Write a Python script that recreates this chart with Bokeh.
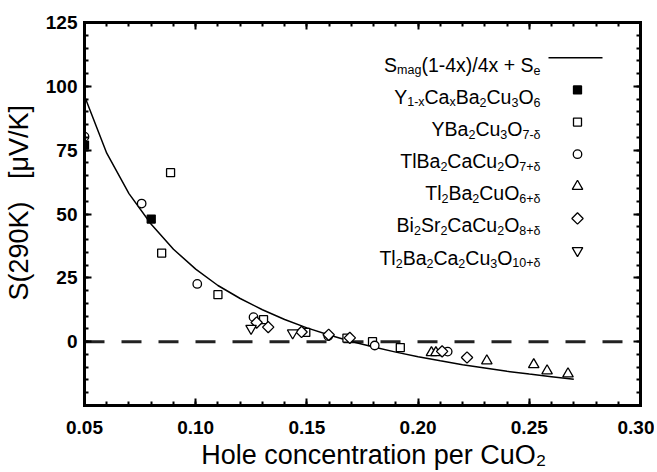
import numpy as np
from bokeh.plotting import figure
from bokeh.models import (Range1d, FixedTicker, LinearAxis, Label, Span, PrintfTickFormatter)
from bokeh.embed import file_html
from bokeh.resources import INLINE

# ---------------- data ----------------
yca_x = [0.050, 0.080]
yca_s = [77.0, 48.0]
ybco_x = [0.0887, 0.0847, 0.110, 0.1305, 0.1495, 0.168, 0.1795, 0.192]
ybco_s = [66.2, 34.7, 18.4, 8.6, 3.6, 1.4, 0.0, -2.3]
tl1212_x = [0.050, 0.0757, 0.1007, 0.1260, 0.1596, 0.1805, 0.2133]
tl1212_s = [80.3, 54.1, 22.6, 9.6, 2.2, -1.5, -3.9]
tl2201_x = [0.2060, 0.2080, 0.2309, 0.2520, 0.2580, 0.2674]
tl2201_s = [-4.3, -4.3, -7.5, -9.0, -11.4, -12.6]
bi2212_x = [0.1274, 0.1326, 0.1476, 0.1598, 0.1693, 0.2108, 0.2220]
bi2212_s = [7.5, 5.7, 3.8, 2.7, 1.5, -3.8, -6.2]
tl2223_x = [0.1249, 0.1436]
tl2223_s = [5.2, 3.4]

# fitted curve S_mag(1-4x)/4x + S_e as drawn
curve_x = [0.05, 0.06, 0.07, 0.08, 0.09, 0.10, 0.11, 0.12, 0.13, 0.14, 0.15, 0.16,
           0.17, 0.18, 0.19, 0.20, 0.21, 0.22, 0.23, 0.24, 0.25, 0.26, 0.27]
curve_s = [96.2, 73.8, 58.0, 46.0, 36.2, 28.4, 22.0, 16.9, 12.5, 8.7, 5.4, 2.6,
           0.1, -2.1, -4.1, -5.9, -7.5, -9.0, -10.3, -11.6, -12.7, -13.7, -14.7]

x_ticks = [0.05, 0.10, 0.15, 0.20, 0.25, 0.30]
y_ticks = [0, 25, 50, 75, 100, 125]

fit_label = "S_{mag}(1-4x)/4x + S_{e}"
series_labels = ["Y_{1-x}Ca_{x}Ba_{2}Cu_{3}O_{6}",
                 "YBa_{2}Cu_{3}O_{7-δ}",
                 "TlBa_{2}CaCu_{2}O_{7+δ}",
                 "Tl_{2}Ba_{2}CuO_{6+δ}",
                 "Bi_{2}Sr_{2}CaCu_{2}O_{8+δ}",
                 "Tl_{2}Ba_{2}Ca_{2}Cu_{3}O_{10+δ}"]

x_label = "Hole concentration per CuO₂"
y_label = "S(290K)\u00a0\u00a0\u00a0[μV/K]"

# ---------------- layout constants (pixels) ----------------
FONT = "Liberation Sans"
X0, X1, Y0, Y1 = 0.05, 0.30, -25, 125
FRAME_LEFT, FRAME_TOP, FRAME_RIGHT, FRAME_BOTTOM = 84, 22, 640, 407
W, H = 654, 472
FRAME_W, FRAME_H = FRAME_RIGHT - FRAME_LEFT, FRAME_BOTTOM - FRAME_TOP

p = figure(width=W, height=H, x_range=Range1d(X0, X1), y_range=Range1d(Y0, Y1),
           output_backend="svg", toolbar_location=None,
           min_border_left=FRAME_LEFT, min_border_right=W - FRAME_RIGHT,
           min_border_top=FRAME_TOP, min_border_bottom=H - FRAME_BOTTOM)
p.outline_line_color = None
p.grid.visible = False
p.background_fill_color = "white"

xt = FixedTicker(ticks=x_ticks, minor_ticks=[round(0.05 + 0.01 * i, 2) for i in range(26)])
yt = FixedTicker(ticks=y_ticks, minor_ticks=list(range(-25, 126, 5)))

def style_axis(ax, show_labels):
    ax.axis_line_width = 3
    ax.axis_line_color = "black"
    ax.axis_line_cap = "square"
    ax.major_tick_in = 7
    ax.major_tick_out = 0
    ax.minor_tick_in = 4
    ax.minor_tick_out = 0
    ax.major_tick_line_width = 2
    ax.minor_tick_line_width = 2
    ax.major_tick_line_color = "black"
    ax.minor_tick_line_color = "black"
    if show_labels:
        ax.major_label_text_font = FONT
        ax.major_label_text_font_style = "bold"
        ax.major_label_text_font_size = "19px"
        ax.major_label_text_color = "black"
        ax.axis_label_text_font = FONT
        ax.axis_label_text_font_style = "normal"
        ax.axis_label_text_font_size = "27px"
        ax.axis_label_text_color = "black"
    else:
        ax.major_label_text_font_size = "0px"
        ax.major_label_text_color = None
        ax.major_label_standoff = 0

xa = p.xaxis[0]
ya = p.yaxis[0]
xa.ticker = xt
ya.ticker = yt
xa.formatter = PrintfTickFormatter(format="%.2f")
style_axis(xa, True)
style_axis(ya, True)
xa.axis_label = "\u00a0\u00a0\u00a0" + x_label
ya.axis_label = "\u00a0\u00a0\u00a0" + y_label
xa.major_label_standoff = 15
ya.major_label_standoff = 7
xa.axis_label_standoff = 3
ya.axis_label_standoff = 9

top = LinearAxis(ticker=xt)
right = LinearAxis(ticker=yt)
style_axis(top, False)
style_axis(right, False)
p.add_layout(top, "above")
p.add_layout(right, "right")

# zero line
p.add_layout(Span(location=0, dimension="width", line_color="#222222", line_width=3,
                  line_dash="20 17", level="underlay"))

# curve
p.line(curve_x, curve_s, line_color="black", line_width=1.5)

MS = dict(line_color="black", line_width=1.3)
STYLES = [dict(marker="square", size=8, fill_color="black"),
          dict(marker="square", size=8, fill_color="white"),
          dict(marker="circle", size=8.5, fill_color="white"),
          dict(marker="triangle", size=10.5, fill_color="white"),
          dict(marker="square", angle=np.pi / 4, size=8, fill_color="white"),
          dict(marker="inverted_triangle", size=10.5, fill_color="white")]
series = [(yca_x, yca_s), (ybco_x, ybco_s), (tl1212_x, tl1212_s),
          (tl2201_x, tl2201_s), (bi2212_x, bi2212_s), (tl2223_x, tl2223_s)]
for (sx, sy), st in zip(series, STYLES):
    p.scatter(sx, sy, **st, **MS)

# ---------------- legend (text left, glyph right) ----------------
# a pixel coordinate system over the frame for the legend samples
p.extra_x_ranges["px"] = Range1d(FRAME_LEFT, FRAME_RIGHT)
p.extra_y_ranges["py"] = Range1d(FRAME_BOTTOM, FRAME_TOP)

ROW0, ROW_STEP = 57.5, 32.3      # y of the first legend row centre, row spacing
GLYPH_CX = 577
LINE_X = (548, 602)
TEXT_RIGHT = 540

p.line(x=list(LINE_X), y=[ROW0, ROW0], x_range_name="px", y_range_name="py",
       line_color="black", line_width=1.5)
for k, st in enumerate(STYLES):
    gy = ROW0 + (k + 1) * ROW_STEP
    p.scatter(x=[GLYPH_CX], y=[gy], x_range_name="px", y_range_name="py", **st, **MS)

WID = {' ': 278, '(': 333, ')': 333, '-': 333, '/': 278, '+': 584, 'δ': 556,
       'A': 667, 'B': 667, 'C': 722, 'O': 778, 'S': 667, 'T': 611, 'Y': 667,
       'a': 556, 'e': 556, 'g': 556, 'i': 222, 'l': 222, 'm': 833, 'r': 333,
       'u': 556, 'x': 500}
for d in "0123456789":
    WID[d] = 556

def parse(s):
    segs, i = [], 0
    while i < len(s):
        if s.startswith("_{", i):
            j = s.index("}", i)
            segs.append((s[i + 2:j], True))
            i = j + 1
        else:
            j = s.find("_{", i)
            j = len(s) if j < 0 else j
            segs.append((s[i:j], False))
            i = j
    return segs

MAIN, SUB, SUB_DROP = 19.5, 12.5, 5.5

for k, lab in enumerate([fit_label] + series_labels):
    segs = parse(lab)
    widths = [sum(WID.get(c, 556) for c in t) * (SUB if sub else MAIN) / 1000 for t, sub in segs]
    xpos = TEXT_RIGHT - sum(widths)
    base = ROW0 + k * ROW_STEP + 7
    for (t, sub), w in zip(segs, widths):
        yb = base + (SUB_DROP if sub else 0)
        p.add_layout(Label(x=TEXT_RIGHT, y=yb, x_range_name="px", y_range_name="py",
                           x_offset=xpos - TEXT_RIGHT, text=t.replace(" ", "\u00a0"),
                           text_font=FONT, text_font_size=f"{SUB if sub else MAIN}px",
                           text_color="black", text_align="left",
                           text_baseline="alphabetic"))
        xpos += w

open("out.html", "w").write(file_html(p, INLINE))
